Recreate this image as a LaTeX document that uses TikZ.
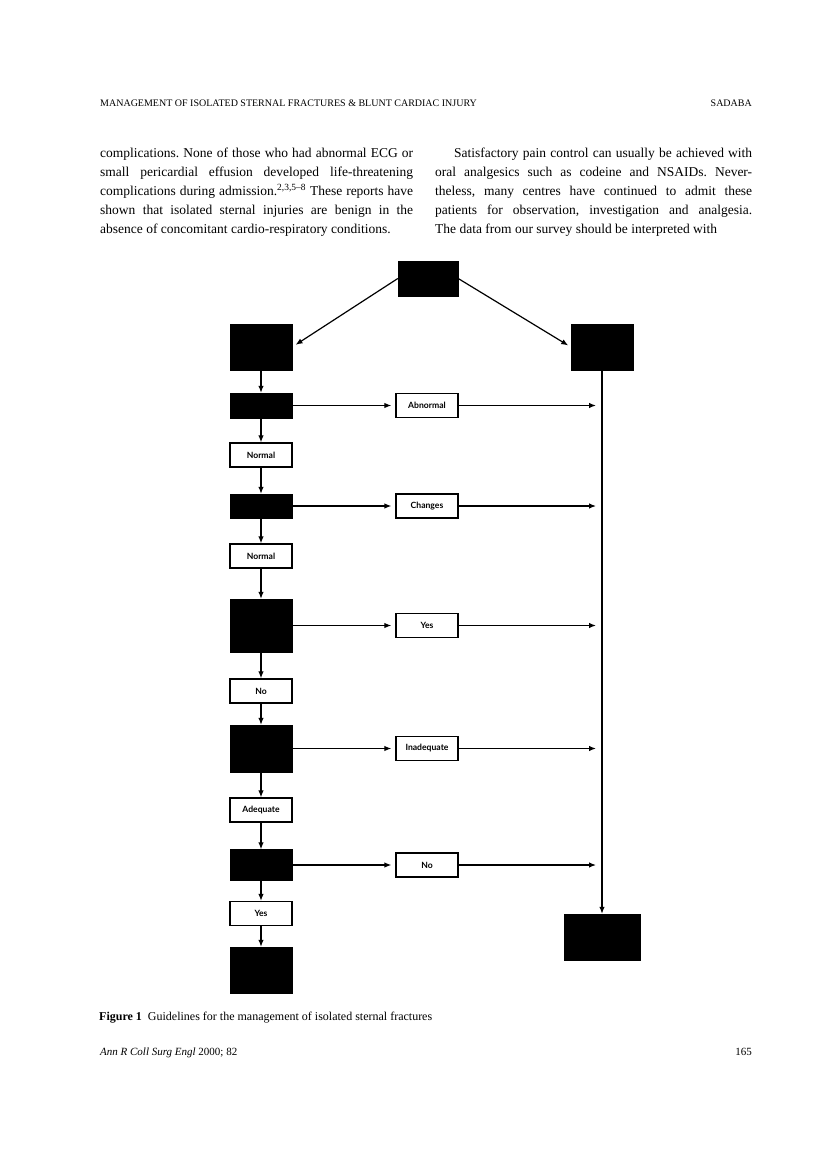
\documentclass[tikz,border=0pt]{standalone}
\usepackage{fontspec}
\setmainfont{Liberation Serif}
\newfontfamily\chartfont{Lato}
\usepackage{tikz}
\usetikzlibrary{arrows.meta,positioning}

\begin{document}
\frenchspacing
\begin{tikzpicture}[
    x=1pt, y=-1pt,
    box/.style={rectangle, draw, line width=1.3pt, minimum width=62pt, minimum height=24pt, inner sep=0pt, font=\chartfont\bfseries\fontsize{8.6}{9}\selectfont},
    blackbox/.style={rectangle, draw, fill=black, minimum width=62pt, minimum height=#1, inner sep=0pt},
    flow/.style={-{Latex[length=7pt,width=5.5pt]}, line width=1.2pt},
    textcol/.style={anchor=north west, inner sep=0pt, align=justify, font=\fontsize{13.5}{19}\selectfont},
    runhead/.style={inner sep=0pt, font=\fontsize{10}{12}\selectfont},
]
    \useasboundingbox (0,0) rectangle (816,1155);

    \node[runhead, anchor=base west] (head) at (100,107) {MANAGEMENT OF ISOLATED STERNAL FRACTURES \& BLUNT CARDIAC INJURY};
    \node[runhead, anchor=base east] (author) at (752,107) {SADABA};

    \node[textcol, text width=313pt] (lefttext) at (100,148) {complications. None of those who had abnormal ECG or\linebreak
      small pericardial effusion developed life-threatening\linebreak
      complications during admission.\textsuperscript{2,3,5--8} These reports have\linebreak
      shown that isolated sternal injuries are benign in the\linebreak
      absence of concomitant cardio-respiratory conditions.};
    \node[textcol, text width=317pt] (righttext) at (435,148) {\parfillskip=0pt\hspace*{19pt}Satisfactory pain control can usually be achieved with\linebreak
      oral analgesics such as codeine and NSAIDs. Never-\linebreak
      theless, many centres have continued to admit these\linebreak
      patients for observation, investigation and analgesia.\linebreak
      The data from our survey should be interpreted with};

    \node[blackbox=35pt, minimum width=60pt] (top) at (428,278.5) {};
    \node[blackbox=46pt] (b0) at (261,347) {};
    \node[blackbox=46pt] (rtop) at (602,347) {};
    \node[blackbox=46pt, minimum width=76pt] (rbot) at (602,937) {};

    \node[blackbox=25pt] (b1) at (261,405.5) {};
    \node[box] (res1) at (427,405.5) {Abnormal};
    \node[box] (ok1) at (261,455) {Normal};
    \node[blackbox=24pt] (b2) at (261,506) {};
    \node[box] (res2) at (427,506) {Changes};
    \node[box] (ok2) at (261,556) {Normal};
    \node[blackbox=53pt] (b3) at (261,625.5) {};
    \node[box] (res3) at (427,625.5) {Yes};
    \node[box] (ok3) at (261,691) {No};
    \node[blackbox=47pt] (b4) at (261,748.5) {};
    \node[box] (res4) at (427,748.5) {Inadequate};
    \node[box] (ok4) at (261,810) {Adequate};
    \node[blackbox=31pt] (b5) at (261,865) {};
    \node[box] (res5) at (427,865) {No};
    \node[box] (ok5) at (261,913.5) {Yes};
    \node[blackbox=46pt] (b6) at (261,970) {};

    \draw[flow, shorten >=4pt] (top.west) -- (b0.east);
    \draw[flow, shorten >=3pt] (top.east) -- (rtop.west);
    \draw[flow] (rtop.south) -- (rbot.north);
    \draw[flow] (b0) -- (b1);
    \foreach \n [evaluate=\n as \m using int(\n+1)] in {1,...,5} {
        \draw[flow, shorten >=4pt] (b\n.east) -- (res\n.west);
        \draw[flow, shorten >=6pt] (res\n.east) -- (res\n.east -| rtop.south);
        \draw[flow] (b\n) -- (ok\n);
        \draw[flow] (ok\n) -- (b\m);
    }

    \node[inner sep=0pt, anchor=base west, font=\fontsize{12}{14}\selectfont] (caption) at (99,1020) {\textbf{Figure 1}\enspace Guidelines for the management of isolated sternal fractures};
    \node[inner sep=0pt, anchor=base west, font=\fontsize{11}{13}\selectfont] (journal) at (100,1055) {\textit{Ann R Coll Surg Engl} 2000; 82};
    \node[inner sep=0pt, anchor=base east, font=\fontsize{11}{13}\selectfont] (page) at (752,1055) {165};
\end{tikzpicture}
\end{document}
